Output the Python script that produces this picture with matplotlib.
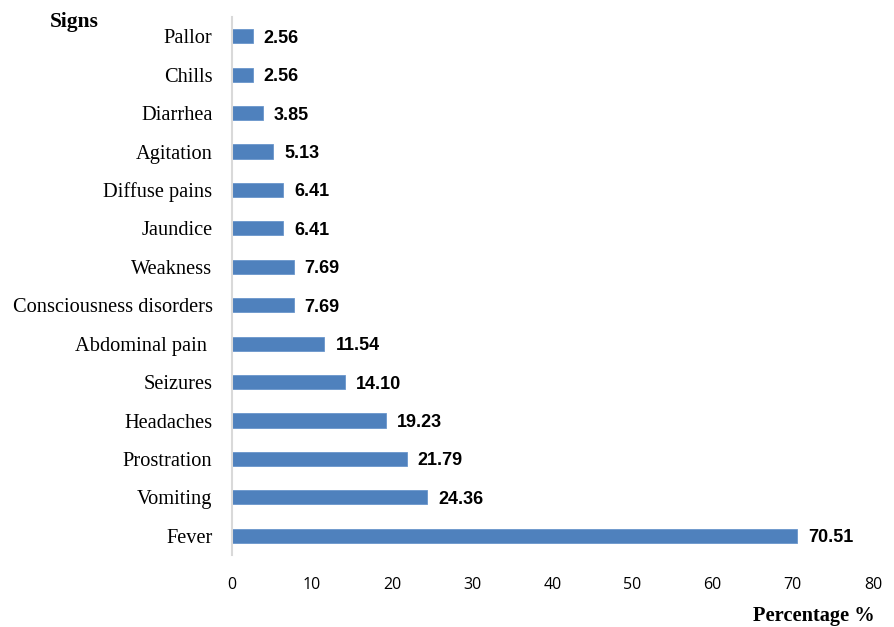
import matplotlib

matplotlib.use("Agg")
import matplotlib.pyplot as plt

signs = ["Fever", "Vomiting", "Prostration", "Headaches", "Seizures", "Abdominal pain ",
         "Consciousness disorders", "Weakness", "Jaundice", "Diffuse pains", "Agitation",
         "Diarrhea", "Chills", "Pallor"]
pct = [70.51, 24.36, 21.79, 19.23, 14.10, 11.54, 7.69, 7.69, 6.41, 6.41, 5.13, 3.85, 2.56, 2.56]
xticks = [0, 10, 20, 30, 40, 50, 60, 70, 80]

fig = plt.figure(figsize=(8.94, 6.27), dpi=100)
ax = fig.add_axes([232 / 894, 1 - 555 / 627, (873 - 232) / 894, (555 - 17) / 627])

ypos = range(len(signs))
ax.barh(ypos, pct, height=0.37, color="#4F81BD", edgecolor="#6A96CC", linewidth=0.6)
for y, v in zip(ypos, pct):
    ax.annotate(f"{v:.2f}", (v, y), xytext=(8, 0), textcoords="offset points",
                va="center_baseline", ha="left", fontsize=13, fontweight="bold",
                family="Liberation Sans")

ax.set_xlim(0, 80)
ax.set_ylim(-0.5, len(signs) - 0.5)
ax.set_xticks(xticks)
ax.set_xticklabels([str(t) for t in xticks], family="Open Sans", fontsize=11.5)
ax.set_yticks(list(ypos))
ax.set_yticklabels(signs, family="Liberation Serif", fontsize=14.7)
ax.tick_params(axis="x", length=0, pad=16)
ax.tick_params(axis="y", length=0, pad=14)
for s in ["top", "right", "bottom"]:
    ax.spines[s].set_visible(False)
ax.spines["left"].set_color("#D9D9D9")
ax.spines["left"].set_linewidth(1.5)

fig.text(50 / 894, 1 - 22 / 627, "Signs", family="Liberation Serif", fontweight="bold",
         fontsize=15.5, va="center", ha="left")
fig.text(875 / 894, 1 - 616 / 627, "Percentage %", family="Liberation Serif",
         fontweight="bold", fontsize=14.7, va="center", ha="right")

fig.savefig("out.png", dpi=100)
